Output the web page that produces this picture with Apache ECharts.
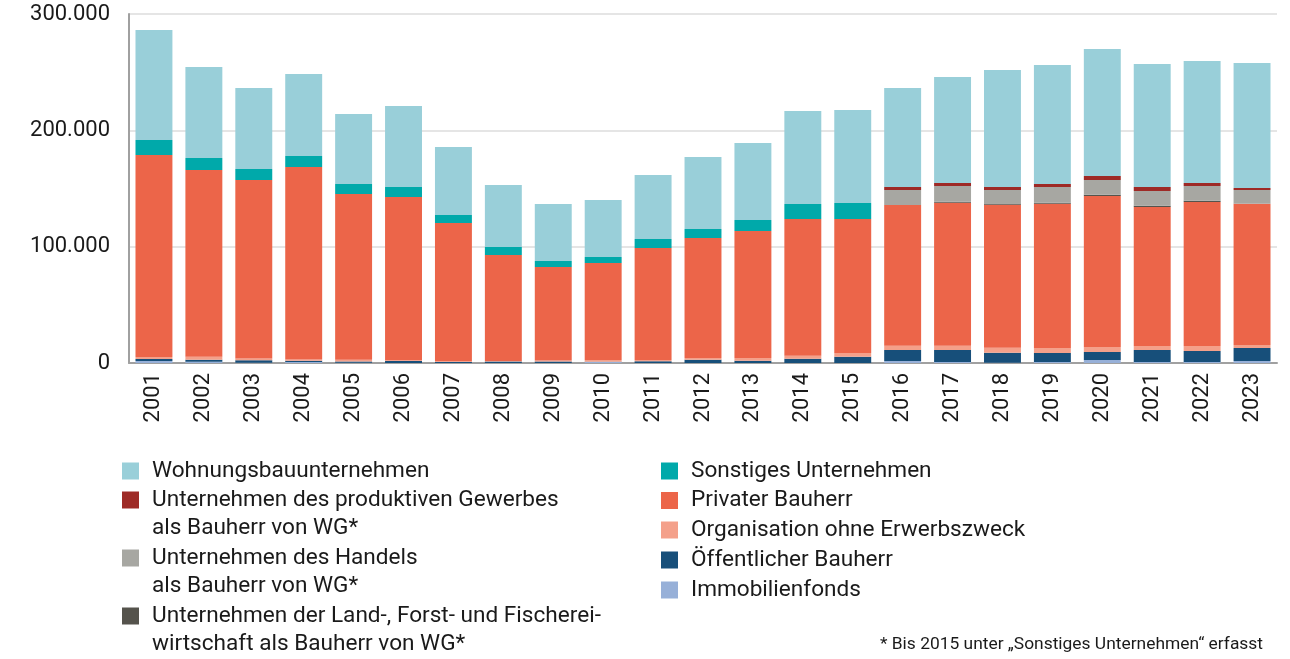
<!DOCTYPE html>
<html>
<head>
<meta charset="utf-8">
<title>Genehmigte Wohnungen nach Bauherren</title>
<script src="https://cdn.jsdelivr.net/npm/echarts@6/dist/echarts.min.js"></script>
<style>
  html, body { margin: 0; padding: 0; background: #ffffff; }
  #chart { width: 1290px; height: 659px; }
</style>
</head>
<body>
<div id="chart"></div>
<script>
// Werte in Tausend Wohnungen
const years = ['2001', '2002', '2003', '2004', '2005', '2006', '2007', '2008', '2009', '2010', '2011', '2012',
  '2013', '2014', '2015', '2016', '2017', '2018', '2019', '2020', '2021', '2022', '2023'];
const yTicks = [0, 100, 200, 300];

const immobilienfonds = [1.7, 1.0, 0.3, 0.8, 0.3, 0, 0, 0, 0, 0.8, 0, 0, 0, 0, 0, 1.7, 0.9, 0.3, 0.9, 2.6, 0.9, 0.9, 1.7];
const oeffentlich = [1.7, 1.7, 2.0, 1.2, 0.9, 1.7, 0.9, 1.2, 1.2, 0.3, 1.4, 2.9, 2.0, 3.7, 5.4, 9.5, 10.3, 8.6, 7.7, 6.9, 10.3, 9.5, 11.2];
const organisation = [1.7, 2.6, 1.5, 1.0, 1.7, 0.6, 0.6, 0.6, 1.0, 1.5, 1.2, 1.4, 2.3, 2.6, 3.2, 3.7, 3.7, 4.3, 4.3, 4.3, 3.4, 4.3, 2.6];
const privat = [173.7, 160.6, 153.5, 165.5, 142.4, 140.4, 118.8, 91.0, 80.3, 83.4, 96.3, 103.2, 109.2, 117.5, 115.2,
  120.9, 122.9, 122.9, 124.0, 129.8, 119.5, 123.7, 121.4];
// bis 2015 nicht getrennt erfasst
const landForst = [null, null, null, null, null, null, null, null, null, null, null, null, null, null, null,
  0, 0.9, 0.9, 0.9, 1.1, 1.1, 1.1, 0];
const handel = [null, null, null, null, null, null, null, null, null, null, null, null, null, null, null,
  12.9, 13.5, 11.7, 13.5, 12.6, 12.7, 12.7, 11.8];
const gewerbe = [null, null, null, null, null, null, null, null, null, null, null, null, null, null, null,
  2.6, 2.5, 2.6, 2.6, 3.5, 3.4, 2.5, 1.7];
const sonstiges = [12.9, 10.3, 9.5, 9.4, 8.6, 8.6, 6.9, 6.9, 5.2, 5.1, 7.7, 7.7, 9.5, 12.9, 13.8, 0, 0, 0, 0, 0, 0, 0, 0];
const wohnungsbau = [94.6, 78.2, 69.6, 70.5, 60.1, 69.6, 58.5, 53.3, 49.0, 49.0, 55.0, 61.9, 66.1, 79.9, 79.9,
  85.1, 91.2, 100.6, 102.3, 109.1, 105.7, 104.9, 107.5];

const FONT = 'Roboto';

// von unten nach oben gestapelt
const seriesDefs = [
  { name: 'Immobilienfonds', data: immobilienfonds, color: '#97b0d8' },
  { name: 'Öffentlicher Bauherr', data: oeffentlich, color: '#174f7a' },
  { name: 'Organisation ohne Erwerbszweck', data: organisation, color: '#f4a08a' },
  { name: 'Privater Bauherr', data: privat, color: '#ec6549' },
  { name: 'Unternehmen der Land-, Forst- und Fischereiwirtschaft als Bauherr von WG*', data: landForst, color: '#55534c' },
  { name: 'Unternehmen des Handels als Bauherr von WG*', data: handel, color: '#a7a7a2' },
  { name: 'Unternehmen des produktiven Gewerbes als Bauherr von WG*', data: gewerbe, color: '#9e2a26' },
  { name: 'Sonstiges Unternehmen', data: sonstiges, color: '#00a9aa' },
  { name: 'Wohnungsbauunternehmen', data: wohnungsbau, color: '#99cfd9' }
];

// leere erste Zeile: so steht das Kästchen (Mitte des Blocks) an der ersten Textzeile
const legendLabels = {
  'Unternehmen der Land-, Forst- und Fischereiwirtschaft als Bauherr von WG*': '\nUnternehmen der Land-, Forst- und Fischerei-\nwirtschaft als Bauherr von WG*',
  'Unternehmen des Handels als Bauherr von WG*': '\nUnternehmen des Handels\nals Bauherr von WG*',
  'Unternehmen des produktiven Gewerbes als Bauherr von WG*': '\nUnternehmen des produktiven Gewerbes\nals Bauherr von WG*'
};

const LINE_H = 28.5;

// eine Legende pro Eintrag, positioniert über die Mitte der ersten Zeile
function legendItem(name, left, firstLineY) {
  const label = legendLabels[name] || name;
  const lines = label.split('\n').length;
  return {
    data: [name],
    left: left,
    top: firstLineY - LINE_H * lines / 2 + 2,
    padding: 0,
    icon: 'rect',
    itemWidth: 17,
    itemHeight: 17,
    selectedMode: false,
    formatter: n => legendLabels[n] || n,
    textStyle: {
      fontFamily: FONT,
      fontSize: 22.6,
      color: '#1a1a1a',
      lineHeight: LINE_H,
      padding: [0, 0, 0, 8]
    }
  };
}

const legends = [
  legendItem('Wohnungsbauunternehmen', 122, 469),
  legendItem('Unternehmen des produktiven Gewerbes als Bauherr von WG*', 122, 498),
  legendItem('Unternehmen des Handels als Bauherr von WG*', 122, 556),
  legendItem('Unternehmen der Land-, Forst- und Fischereiwirtschaft als Bauherr von WG*', 122, 614),
  legendItem('Sonstiges Unternehmen', 661, 469),
  legendItem('Privater Bauherr', 661, 498.5),
  legendItem('Organisation ohne Erwerbszweck', 661, 528),
  legendItem('Öffentlicher Bauherr', 661, 558),
  legendItem('Immobilienfonds', 661, 588)
];

const chart = echarts.init(document.getElementById('chart'), null, { renderer: 'canvas' });

chart.setOption({
  animation: false,
  backgroundColor: '#ffffff',
  title: {
    text: '* Bis 2015 unter „Sonstiges Unternehmen“ erfasst',
    right: 27,
    top: 636,
    padding: 0,
    textStyle: { fontFamily: FONT, fontSize: 17.4, fontWeight: 'normal', color: '#1a1a1a' }
  },
  legend: legends,
  grid: { left: 129, right: 13, top: 14, bottom: 296 },
  xAxis: {
    type: 'category',
    data: years,
    axisTick: { show: false },
    axisLine: { lineStyle: { color: '#a0a0a0', width: 2 } },
    axisLabel: {
      rotate: 90,
      margin: 10,
      interval: 0,
      fontFamily: FONT,
      fontSize: 22,
      color: '#1a1a1a'
    }
  },
  yAxis: {
    type: 'value',
    min: yTicks[0],
    max: yTicks[yTicks.length - 1],
    interval: yTicks[1] - yTicks[0],
    axisLine: { show: true, lineStyle: { color: '#a0a0a0', width: 2 } },
    axisTick: { show: false },
    splitLine: { lineStyle: { color: '#dcdcdc', width: 1.5 } },
    axisLabel: {
      margin: 19,
      fontFamily: FONT,
      fontSize: 22,
      color: '#1a1a1a',
      formatter: v => (v === 0 ? '0' : v + '.000')
    }
  },
  series: seriesDefs.map(s => ({
    name: s.name,
    type: 'bar',
    stack: 'gesamt',
    barCategoryGap: '26%',
    data: s.data,
    itemStyle: { color: s.color }
  }))
});
</script>
</body>
</html>
